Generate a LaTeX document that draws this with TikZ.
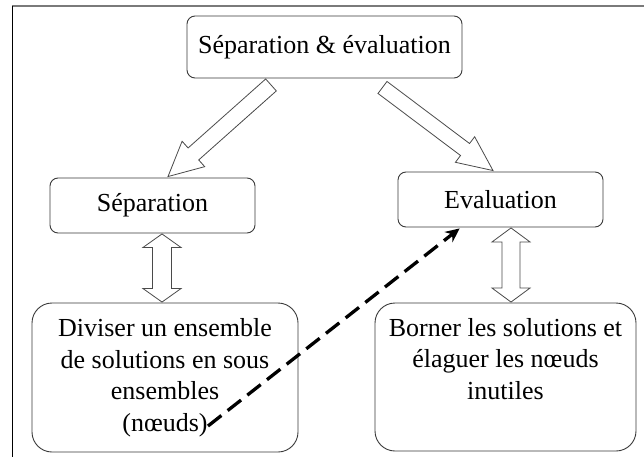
\documentclass[tikz,border=0pt]{standalone}
\usepackage{fontspec}
\setmainfont{Liberation Serif}
\usetikzlibrary{calc,arrows.meta}
\definecolor{boxline}{HTML}{3A3A3A}
\definecolor{arrline}{HTML}{4A4A4A}
\definecolor{frametop}{HTML}{7A7A7A}
\newcommand\hollowarrow[5]{%
  \coordinate (hb) at ($(#2)!#5!(#1)$);
  \draw[hollow] ($(#1)!#3!90:(#2)$) -- ($(hb)!#3!90:(#2)$) -- ($(hb)!#4!90:(#2)$) -- (#2)
    -- ($(hb)!#4!-90:(#2)$) -- ($(hb)!#3!-90:(#2)$) -- ($(#1)!#3!-90:(#2)$) -- cycle;}
\newcommand\hollowdouble[5]{%
  \coordinate (ha) at ($(#1)!#5!(#2)$);
  \coordinate (hb) at ($(#2)!#5!(#1)$);
  \draw[hollow] (#1) -- ($(ha)!#4!90:(#2)$) -- ($(ha)!#3!90:(#2)$) -- ($(hb)!#3!-90:(#1)$)
    -- ($(hb)!#4!-90:(#1)$) -- (#2) -- ($(hb)!#4!90:(#1)$) -- ($(hb)!#3!90:(#1)$)
    -- ($(ha)!#3!-90:(#2)$) -- ($(ha)!#4!-90:(#2)$) -- cycle;}
\begin{document}
\begin{tikzpicture}[x=1pt,y=-1pt,
  box/.style={draw=boxline, line width=0.9pt, fill=white, rounded corners=8pt,
    inner sep=0pt, font=\fontsize{26}{31.5}\selectfont, align=center},
  bigbox/.style={box, rounded corners=20pt},
  hollow/.style={draw=arrline, line width=0.8pt, fill=white, line join=miter},
  dasharrow/.style={line width=3.3pt, dash pattern=on 17pt off 8pt,
    -{Stealth[length=14pt,width=13pt]}}]
\useasboundingbox (0,0) rectangle (644,457);
% frame
\coordinate (fc) at (12,6);
\coordinate (fr) at (644,6);
\coordinate (fb) at (12,457);
\draw[frametop, line width=2pt] (fc) -- (fr);
\draw[black, line width=1pt] (fc) -- (fb);
% boxes
\node[box, minimum width=275pt, minimum height=62pt] (top) at (324.5,47) {Séparation \& évaluation};
\node[box, minimum width=205pt, minimum height=55pt] (sep) at (152.5,205.5) {Séparation};
\node[box, minimum width=205pt, minimum height=55pt] (eva) at (500.5,199.5) {Evaluation};
\node[bigbox, minimum width=266pt, minimum height=149pt] (div) at (165,377.5)
  {Diviser un ensemble\\de solutions en sous\\ensembles\\(nœuds)};
\node[bigbox, minimum width=261pt, minimum height=148pt] (bor) at (505.5,377)
  {Borner les solutions et\\élaguer les nœuds\\inutiles\\\vphantom{(}};
% hollow arrows from top
\coordinate (t1) at ($(top.south)+(-53.5,6.5)$);
\coordinate (p1) at ($(sep.north)+(15.5,-1)$);
\hollowarrow{t1}{p1}{8pt}{17pt}{34pt}
\coordinate (t2) at ($(top.south)+(58,9)$);
\coordinate (p2) at ($(eva.north)+(-7.5,-1)$);
\hollowarrow{t2}{p2}{7.5pt}{16pt}{35pt}
% vertical double arrows
\coordinate (d1a) at ($(sep.south)+(9.5,0.5)$);
\coordinate (d1b) at ($(div.north)+(-3,-0.5)$);
\hollowdouble{d1a}{d1b}{9.5pt}{19pt}{13.5pt}
\coordinate (d2a) at ($(eva.south)+(10.5,0.5)$);
\coordinate (d2b) at ($(bor.north)+(5.5,-0.5)$);
\hollowdouble{d2a}{d2b}{9pt}{19pt}{14pt}
% dashed arrow
\coordinate (ds) at (208,426);
\coordinate (de) at ($(eva.south west)+(62,1)$);
\draw[dasharrow] (ds) -- (de);
\end{tikzpicture}
\end{document}
